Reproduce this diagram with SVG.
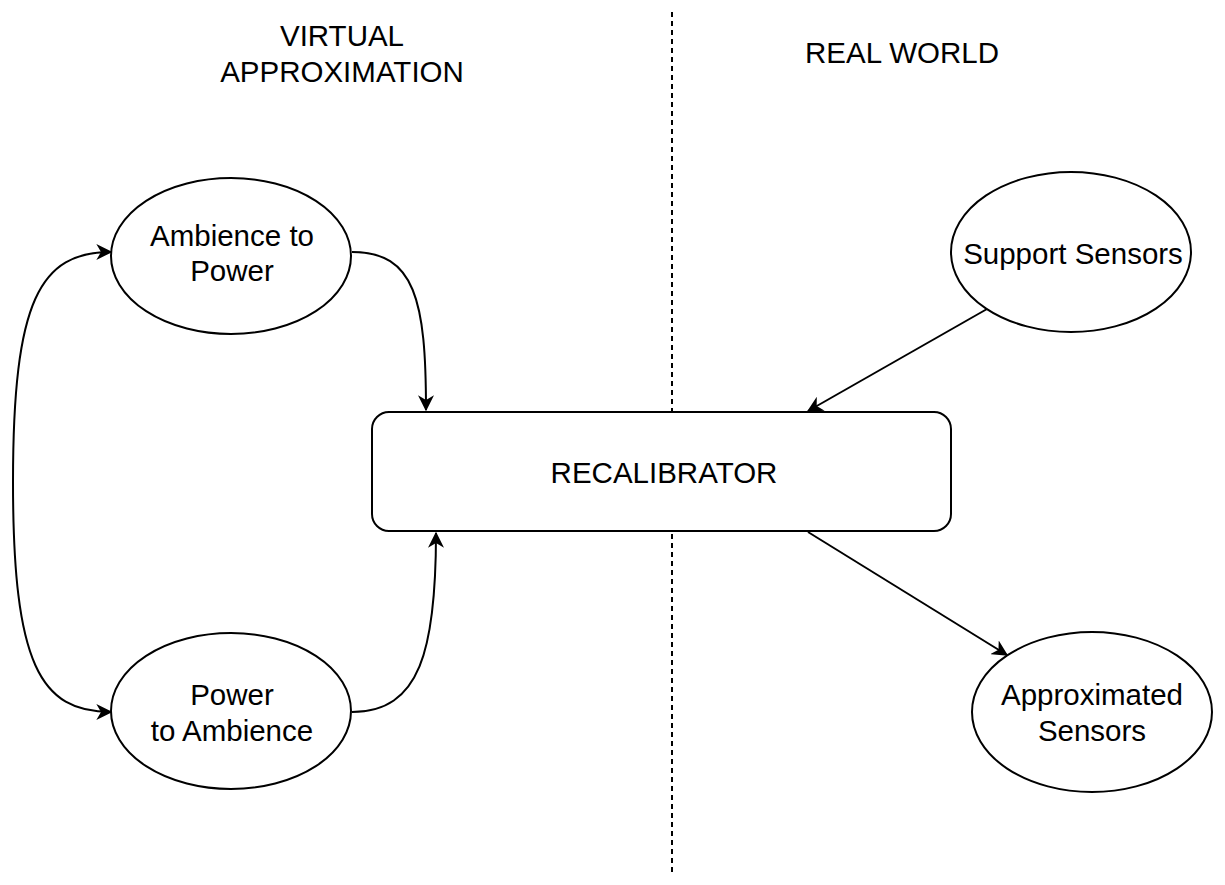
<svg xmlns="http://www.w3.org/2000/svg" width="1225" height="885" viewBox="0 0 1225 885">
<style>
.node{fill:#fff;stroke:#000;stroke-width:2}
.lbl{font-family:"Liberation Sans",Arial,sans-serif;font-size:29.5px;fill:#000;text-anchor:middle}
.edge{fill:none;stroke:#000;stroke-width:2}
</style>
<defs>
<marker id="arr" viewBox="0 0 12 12" refX="11" refY="6" markerWidth="16" markerHeight="16" markerUnits="userSpaceOnUse" orient="auto-start-reverse">
<path d="M0,0 L12,6 L0,12 L3.5,6 Z" fill="#000"/>
</marker>
</defs>
<rect width="1225" height="885" fill="#fff"/>
<g id="divider"><line x1="672" y1="12" x2="672" y2="872" stroke="#000" stroke-width="2" stroke-dasharray="5 4"/></g>
<g id="section-labels">
<text class="lbl" x="342" y="46">VIRTUAL</text>
<text class="lbl" x="342" y="82">APPROXIMATION</text>
<text class="lbl" x="902" y="63">REAL WORLD</text>
</g>
<g id="connectors">
<path class="edge" d="M111,252 C40,252 13,300 13,482 C13,664 40,712 111,712" marker-start="url(#arr)" marker-end="url(#arr)"/>
<path class="edge" d="M352,252 C415,252 426,300 426,410" marker-end="url(#arr)"/>
<path class="edge" d="M352,712 C420,712 436,650 436,533" marker-end="url(#arr)"/>
<path class="edge" d="M987,309 L808,411" marker-end="url(#arr)"/>
<path class="edge" d="M808,532 L1007,655" marker-end="url(#arr)"/>
</g>
<g id="recalibrator">
<rect class="node" x="372" y="412" width="579" height="119" rx="17"/>
<text class="lbl" x="664" y="483">RECALIBRATOR</text>
</g>
<g id="ambience-to-power">
<ellipse class="node" cx="231" cy="256" rx="120" ry="78"/>
<text class="lbl" x="232" y="246">Ambience to</text>
<text class="lbl" x="232" y="281">Power</text>
</g>
<g id="power-to-ambience">
<ellipse class="node" cx="231" cy="711" rx="120" ry="78"/>
<text class="lbl" x="232" y="705">Power</text>
<text class="lbl" x="232" y="741">to Ambience</text>
</g>
<g id="support-sensors">
<ellipse class="node" cx="1071" cy="252" rx="120" ry="80"/>
<text class="lbl" x="1073" y="264">Support Sensors</text>
</g>
<g id="approximated-sensors">
<ellipse class="node" cx="1092" cy="712" rx="120" ry="80"/>
<text class="lbl" x="1092" y="705">Approximated</text>
<text class="lbl" x="1092" y="741">Sensors</text>
</g>
</svg>
